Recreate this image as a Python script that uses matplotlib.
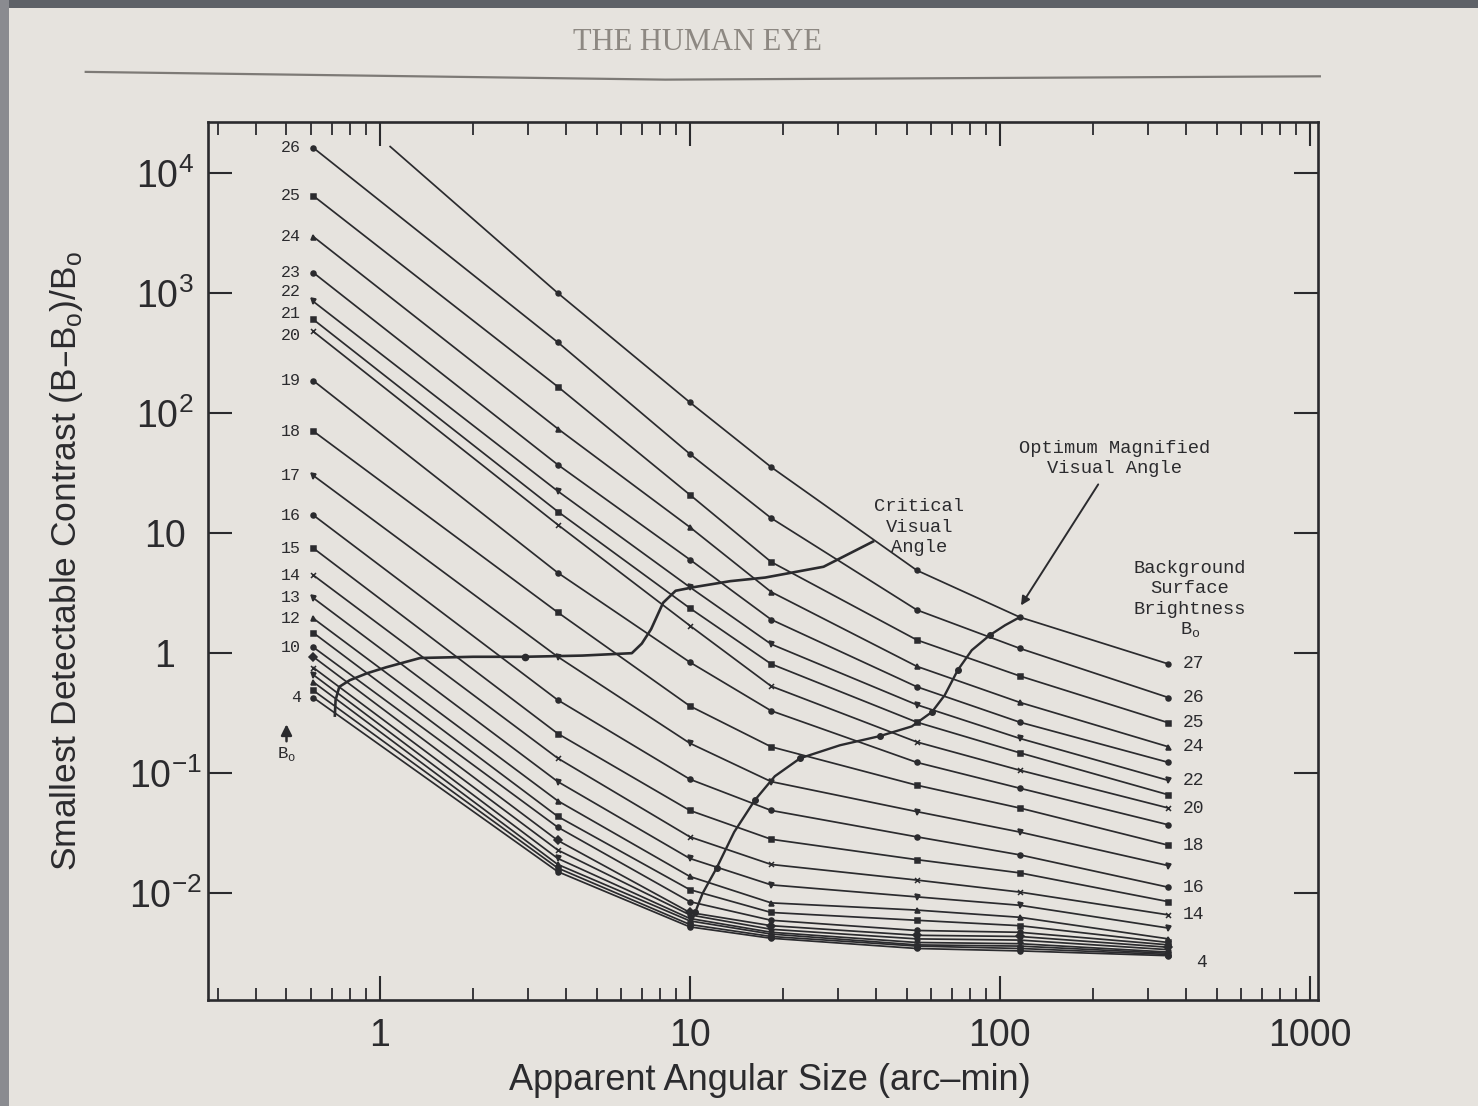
import numpy as np
import matplotlib
matplotlib.use('Agg')
import matplotlib.pyplot as plt
from matplotlib.lines import Line2D
from matplotlib.patches import Rectangle
from matplotlib.ticker import FixedLocator, LogLocator, NullFormatter, NullLocator

# angular sizes (arc-min) where each curve has a marker
sizes = [0.61, 3.75, 10, 18.3, 54, 116, 350]

# background surface brightness of the curves that start at the left column
bo_levels = list(range(4, 27))

# log10 of smallest detectable contrast, B0 = 4 ... 26
logc_061 = [-0.37, -0.31, -0.24, -0.18, -0.12, -0.03, 0.05, 0.17, 0.29, 0.46, 0.65, 0.875,
            1.15, 1.48, 1.85, 2.27, 2.68, 2.78, 2.93, 3.17, 3.47, 3.81, 4.21]
logc_375 = [-1.82, -1.79, -1.76, -1.71, -1.64, -1.56, -1.45, -1.36, -1.23, -1.07, -0.875, -0.67,
            -0.39, -0.03, 0.34, 0.67, 1.07, 1.18, 1.35, 1.57, 1.87, 2.22, 2.59]
logc_10 = [-2.28, -2.26, -2.23, -2.21, -2.18, -2.16, -2.07, -1.97, -1.86, -1.71, -1.53, -1.31,
           -1.05, -0.75, -0.44, -0.075, 0.23, 0.375, 0.55, 0.78, 1.05, 1.32, 1.66]
logc_18 = [-2.375, -2.36, -2.34, -2.325, -2.3, -2.27, -2.225, -2.16, -2.08, -1.93, -1.76, -1.55,
           -1.31, -1.07, -0.78, -0.48, -0.275, -0.09, 0.075, 0.28, 0.51, 0.76, 1.125]
logc_54 = [-2.46, -2.44, -2.43, -2.41, -2.38, -2.35, -2.31, -2.225, -2.14, -2.03, -1.89, -1.72,
           -1.53, -1.32, -1.1, -0.91, -0.74, -0.575, -0.43, -0.28, -0.11, 0.11, 0.36]
logc_116 = [-2.48, -2.46, -2.44, -2.42, -2.39, -2.36, -2.325, -2.27, -2.2, -2.1, -1.99, -1.83,
            -1.68, -1.49, -1.29, -1.125, -0.975, -0.83, -0.71, -0.575, -0.41, -0.19, 0.04]
logc_350 = [-2.52, -2.51, -2.5, -2.49, -2.47, -2.45, -2.43, -2.41, -2.38, -2.29, -2.18, -2.07,
            -1.95, -1.77, -1.6, -1.43, -1.29, -1.18, -1.06, -0.91, -0.78, -0.58, -0.37]

# the B0 = 27 curve starts further right
x_27 = [1.08, 3.75, 10, 18.3, 54, 116, 350]
logc_27 = [4.22, 3.0, 2.09, 1.55, 0.69, 0.30, -0.09]

# critical visual angle curve
crit_x = [0.716, 0.72, 0.74, 0.80, 0.91, 1.05, 1.35, 2.0, 2.93, 4.5, 6.5, 7.0, 7.5, 8.2, 9.0,
          10.3, 13.5, 17.5, 27, 39]
crit_logc = [-0.52, -0.39, -0.28, -0.225, -0.167, -0.117, -0.04, -0.03, -0.03, -0.02, 0.0, 0.08,
             0.2, 0.42, 0.52, 0.55, 0.6, 0.63, 0.72, 0.93]

# optimum magnified visual angle curve
opt_x = [10.0, 10.4, 11.0, 12.2, 13.9, 16.2, 18.8, 22.7, 30.5, 41.1, 52.0, 60.4, 66.4, 73.2,
         81.2, 92.8, 104, 116]
opt_logc = [-2.28, -2.16, -2.0, -1.79, -1.49, -1.225, -1.025, -0.875, -0.767, -0.69, -0.61,
            -0.49, -0.35, -0.14, 0.025, 0.15, 0.233, 0.30]

left_labels = [26, 25, 24, 23, 22, 21, 20, 19, 18, 17, 16, 15, 14, 13, 12, 10, 4]
right_labels = [27, 26, 25, 24, 22, 20, 18, 16, 14, 4]

x_ticks = [1, 10, 100, 1000]
x_tick_labels = ['1', '10', '100', '1000']
y_ticks = [1e-2, 1e-1, 1, 10, 1e2, 1e3, 1e4]
y_tick_labels = [r'$\mathregular{10^{-2}}$', r'$\mathregular{10^{-1}}$', '1', '10',
                 r'$\mathregular{10^{2}}$', r'$\mathregular{10^{3}}$', r'$\mathregular{10^{4}}$']

ink = '#2b2b2e'
page = '#e6e3de'
mono = 'Liberation Mono'
sans = 'Liberation Sans'

plt.rcParams['font.family'] = [sans, 'DejaVu Sans']

fig = plt.figure(figsize=(14.78, 11.06), dpi=100, facecolor=page)

# photo edges + running header of the book page
fig.add_artist(Rectangle((0, 0.993), 1, 0.007, transform=fig.transFigure, color='#5e6167', lw=0))
fig.add_artist(Rectangle((0, 0), 0.006, 1, transform=fig.transFigure, color='#8a8b90', lw=0))
fig.text(0.4716, 0.962, 'THE HUMAN EYE', family='Liberation Serif', fontsize=22,
         color='#8d8882', ha='center', va='center')
fig.add_artist(Line2D([0.058, 0.45, 0.893], [0.935, 0.928, 0.931], transform=fig.transFigure,
                      color='#7d7a76', lw=1.6))

ax = fig.add_axes([0.1407, 0.0958, 0.751, 0.7939])
ax.set_facecolor('none')
ax.set_xscale('log')
ax.set_yscale('log')
ax.set_xlim(0.279, 1062)
ax.set_ylim(0.00129, 26600)

markers = ['o', 's', '^', 'v', 'x', 'D', 'o', 's', '^', 'v', 'x', 's', 'o', 'v', 's', 'o',
           'x', 's', 'v', 'o', '^', 's', 'o']

cols = np.array([logc_061, logc_375, logc_10, logc_18, logc_54, logc_116, logc_350])

for i, b in enumerate(bo_levels):
    ax.plot(sizes, 10 ** cols[:, i], color=ink, lw=1.25, marker=markers[i], ms=3.6,
            mfc=ink, mec=ink, mew=1.1)

ax.plot(x_27, 10 ** np.array(logc_27), color=ink, lw=1.25, marker='o', ms=3.6,
        markevery=list(range(1, len(x_27))), mfc=ink, mec=ink)

ax.plot(crit_x, 10 ** np.array(crit_logc), color=ink, lw=1.9)
ax.plot(crit_x[8], 10 ** crit_logc[8], 'o', color=ink, ms=4.5)
ax.plot(opt_x, 10 ** np.array(opt_logc), color=ink, lw=1.7, marker='o', ms=4,
        markevery=list(range(1, len(opt_x) - 1, 2)))

# curve numbers on the left (the crowded 22/21/20 group is spread apart a little)
nudge = {22: 7, 21: 4, 20: -3}
for b in left_labels:
    i = bo_levels.index(b)
    ax.annotate(str(b), (sizes[0], 10 ** cols[0, i]), xytext=(-9, nudge.get(b, 0)),
                textcoords='offset points', ha='right', va='center', fontsize=12,
                family=mono, color=ink)

# curve numbers on the right
for b in right_labels:
    if b == 27:
        yv = logc_27[-1]
    else:
        yv = cols[-1, bo_levels.index(b)]
    off = (20, -5) if b == 4 else (10, 0)
    ax.annotate(str(b), (sizes[-1], 10 ** yv), xytext=off, textcoords='offset points',
                ha='left', va='center', fontsize=13, family=mono, color=ink)

ax.annotate('', xy=(0.5, 0.27), xytext=(0.5, 0.175),
            arrowprops=dict(arrowstyle='-|>', color=ink, lw=1.8, mutation_scale=16))
ax.text(0.5, 0.145, r'B$_\mathregular{o}$', ha='center', va='center', fontsize=12.5,
        family=mono, color=ink)

note = dict(ha='center', va='center', fontsize=13.5, family=mono, color=ink, linespacing=1.25)
ax.text(55, 11.2, 'Critical\nVisual\nAngle', **note)
ax.annotate('Optimum Magnified\nVisual Angle', xy=(117, 2.5), xytext=(235, 42),
            arrowprops=dict(arrowstyle='-|>', color=ink, lw=1.4, mutation_scale=13,
                            shrinkA=4, shrinkB=0), **note)
ax.text(410, 2.76, 'Background\nSurface\nBrightness\n' + r'B$_\mathregular{o}$', **note)

# axes / ticks
for s in ax.spines.values():
    s.set_linewidth(1.9)
    s.set_color(ink)

ax.xaxis.set_major_locator(FixedLocator(x_ticks))
ax.set_xticklabels(x_tick_labels)
ax.xaxis.set_minor_locator(LogLocator(base=10, subs=np.arange(2, 10)))
ax.xaxis.set_minor_formatter(NullFormatter())
ax.yaxis.set_major_locator(FixedLocator(y_ticks))
ax.set_yticklabels(y_tick_labels)
ax.yaxis.set_minor_locator(NullLocator())

ax.tick_params(which='both', direction='in', top=True, right=True, color=ink, labelcolor=ink)
ax.tick_params(which='major', length=17, width=1.5, labelsize=27)
ax.tick_params(which='minor', length=9, width=1.3)
ax.tick_params(axis='x', which='major', pad=13)
ax.tick_params(axis='y', which='major', pad=31)
for lab in ax.get_yticklabels():
    lab.set_horizontalalignment('center')

ax.set_xlabel('Apparent Angular Size (arc\u2013min)', fontsize=26, color=ink)
ax.xaxis.set_label_coords(0.506, -0.072)
ax.set_ylabel('Smallest Detectable Contrast (B\u2013B' + r'$_\mathregular{o}$)/B$_\mathregular{o}$',
              fontsize=25.5, color=ink)
ax.yaxis.set_label_coords(-0.111, 0.5)

fig.savefig('out.png', dpi=100, facecolor=page)
